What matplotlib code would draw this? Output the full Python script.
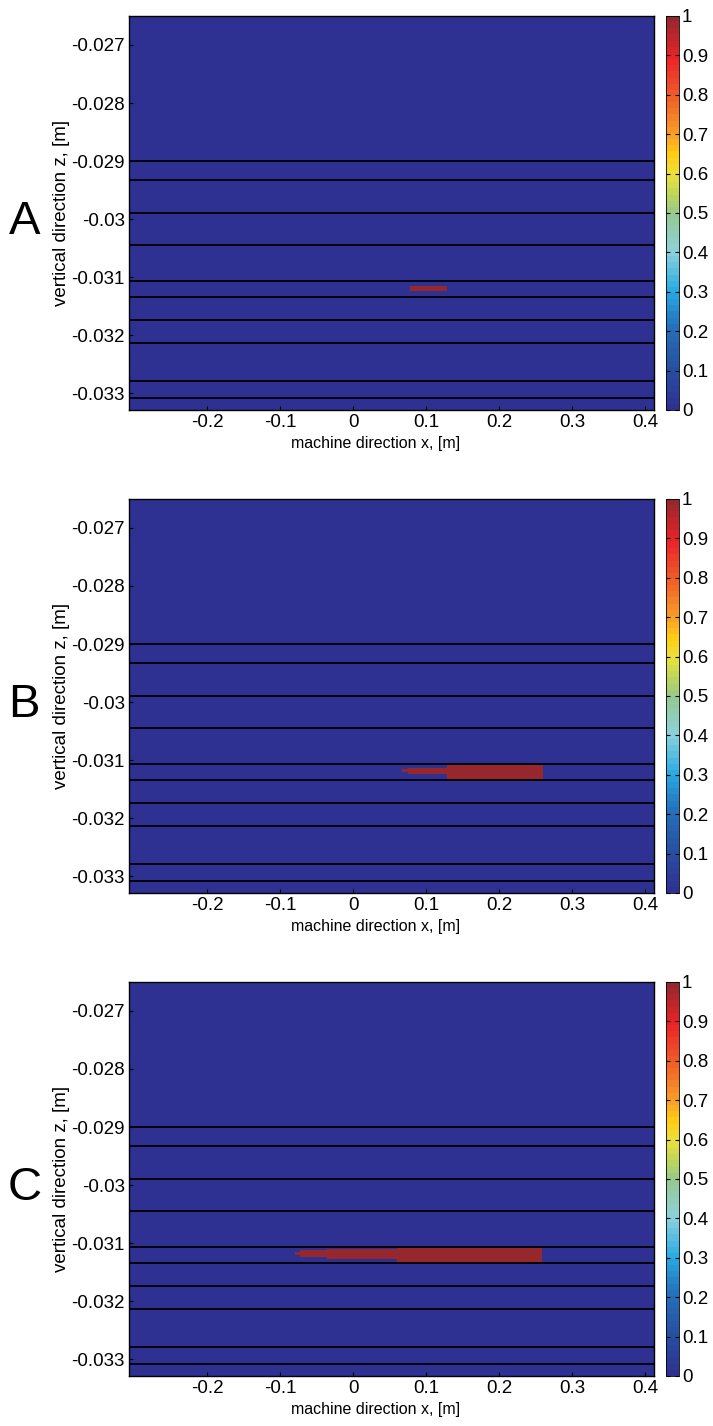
import matplotlib
matplotlib.use('Agg')
import matplotlib.pyplot as plt
import numpy as np
from matplotlib.colors import LinearSegmentedColormap, ListedColormap

plt.rcParams['font.family'] = ['Liberation Sans', 'DejaVu Sans']

# layer boundaries (z, m)
layer_z = [-0.029, -0.029328, -0.029897, -0.030448, -0.031069,
           -0.031345, -0.031741, -0.032138, -0.032793, -0.033086]

# filled region (value 1) per panel, as x0, x1, z0, z1 blocks
panel_letters = ['A', 'B', 'C']
fill_x0 = [[0.078],
           [0.067, 0.075, 0.1288],
           [-0.0795, -0.0726, -0.0356, 0.0603]]
fill_x1 = [[0.128],
           [0.075, 0.1288, 0.260],
           [-0.0726, -0.0356, 0.0603, 0.2589]]
fill_z0 = [[-0.031241],
           [-0.031207, -0.031241, -0.031340],
           [-0.031207, -0.031241, -0.031276, -0.031340]]
fill_z1 = [[-0.031155],
           [-0.031155, -0.031138, -0.031080],
           [-0.031155, -0.031121, -0.031103, -0.031080]]

x_ticks = [-0.2, -0.1, 0, 0.1, 0.2, 0.3, 0.4]
z_ticks = [-0.027, -0.028, -0.029, -0.03, -0.031, -0.032, -0.033]
cb_ticks = [0, 0.1, 0.2, 0.3, 0.4, 0.5, 0.6, 0.7, 0.8, 0.9, 1]

xlim = (-0.307, 0.412)
zlim = (-0.03329, -0.0265)

# muted jet colour map
nodes = [(0.0, (46, 49, 146)), (0.1, (38, 80, 162)), (0.2, (36, 112, 186)),
         (0.3, (40, 170, 225)), (0.4, (140, 210, 220)), (0.5, (150, 200, 140)),
         (0.55, (190, 215, 90)), (0.6, (235, 225, 60)), (0.65, (255, 205, 20)),
         (0.7, (248, 160, 40)), (0.8, (240, 95, 40)), (0.9, (235, 35, 40)),
         (1.0, (150, 40, 45))]
base = LinearSegmentedColormap.from_list(
    'mjet', [(p, tuple(c / 255 for c in rgb)) for p, rgb in nodes])
cmap = ListedColormap(base(np.linspace(0, 1, 64)))

fig = plt.figure(figsize=(7.13, 14.26), dpi=100)

xg = np.linspace(xlim[0], xlim[1], 1400)
zg = np.linspace(zlim[0], zlim[1], 1200)
X, Z = np.meshgrid(xg, zg)

bottoms = [0.7125, 0.3738, 0.0351]
for i, letter in enumerate(panel_letters):
    ax = fig.add_axes([0.1809, bottoms[i], 0.7363, 0.2763])
    field = np.zeros_like(X)
    for x0, x1, z0, z1 in zip(fill_x0[i], fill_x1[i], fill_z0[i], fill_z1[i]):
        field[(X >= x0) & (X <= x1) & (Z >= z0) & (Z <= z1)] = 1
    mesh = ax.pcolormesh(X, Z, field, cmap=cmap, vmin=0, vmax=1,
                         shading='auto', rasterized=True)
    for z in layer_z:
        ax.axhline(z, color='black', lw=1.3)
    ax.set_xlim(xlim)
    ax.set_ylim(zlim)
    ax.set_xticks(x_ticks)
    ax.set_xticklabels(['-0.2', '-0.1', '0', '0.1', '0.2', '0.3', '0.4'])
    ax.set_yticks(z_ticks)
    ax.set_yticklabels(['-0.027', '-0.028', '-0.029', '-0.03', '-0.031',
                        '-0.032', '-0.033'])
    ax.tick_params(direction='in', length=3, labelsize=13.5, pad=3)
    ax.set_xlabel('machine direction x, [m]', fontsize=11.5)
    ax.xaxis.set_label_coords(0.47, -0.066)
    ax.set_ylabel('vertical direction z, [m]', fontsize=13.5, labelpad=1)
    for s in ax.spines.values():
        s.set_linewidth(1.0)
    fig.text(0.034, bottoms[i] + 0.2763 - 206 / 1426, letter, fontsize=34,
             ha='center', va='center')

    cax = fig.add_axes([0.9341, bottoms[i], 0.0182, 0.2763])
    cb = fig.colorbar(mesh, cax=cax, ticks=cb_ticks)
    cb.ax.set_yticklabels(['0', '0.1', '0.2', '0.3', '0.4', '0.5', '0.6',
                           '0.7', '0.8', '0.9', '1'])
    cb.ax.tick_params(direction='in', length=3, labelsize=13.5, pad=2,
                      left=True, right=True)
    cb.outline.set_linewidth(0.6)

fig.savefig('out.png', dpi=100)
